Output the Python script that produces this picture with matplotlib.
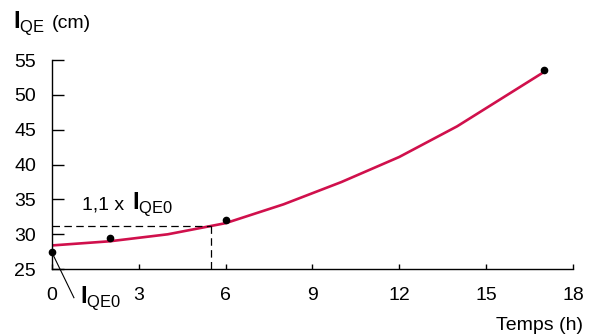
import matplotlib
matplotlib.use("Agg")
import matplotlib.pyplot as plt

plt.rcParams['font.family'] = ['Liberation Sans', 'DejaVu Sans']
plt.rcParams['mathtext.fontset'] = 'custom'
plt.rcParams['mathtext.rm'] = 'Liberation Sans'
plt.rcParams['mathtext.bf'] = 'Liberation Sans:bold'

# measured points
t_meas = [0, 2, 6, 17]
l_meas = [27.4, 29.4, 32.0, 53.6]

# fitted curve
t_fit = [0, 2, 4, 6, 8, 10, 12, 14, 17]
l_fit = [28.4, 29.0, 30.0, 31.6, 34.3, 37.5, 41.1, 45.5, 53.3]

l0 = 28.4
t_cross = 5.5
xticks = [0, 3, 6, 9, 12, 15, 18]
yticks = [25, 30, 35, 40, 45, 50, 55]

fig = plt.figure(figsize=(5.9, 3.36), dpi=100)
ax = fig.add_axes([0.088, 0.199, 0.883, 0.622])

ax.plot(t_fit, l_fit, color='#d0104c', lw=1.9, zorder=2)
ax.plot(t_meas, l_meas, 'o', color='black', ms=4.5, clip_on=False, zorder=3)

# 1.1 x l0 guide lines
dash = (0, (6, 3.5))
ax.plot([0, t_cross], [1.1 * l0, 1.1 * l0], color='black', lw=0.9, ls=dash)
ax.plot([t_cross, t_cross], [25, 1.1 * l0], color='black', lw=0.9, ls=dash)

ax.set_xlim(0, 18)
ax.set_ylim(25, 55)
ax.set_xticks(xticks)
ax.set_yticks(yticks)
for s in ['top', 'right']:
    ax.spines[s].set_visible(False)
ax.spines['left'].set_linewidth(1.0)
ax.spines['bottom'].set_linewidth(1.0)
ax.tick_params(axis='y', direction='in', length=8.5, width=1.0, pad=11.5, labelsize=14)
ax.tick_params(axis='x', direction='in', length=3.5, width=1.0, pad=13, labelsize=14)

# threshold label
ax.text(1.03, 33.6, '1,1 x', fontsize=14, ha='left', va='baseline')
ax.text(2.76, 33.6, r'$\mathbf{I}_{\mathregular{QE0}}$', fontsize=17, ha='left', va='baseline')

# initial length label with leader line
ax.plot([0, 0.76], [27.4, 20.9], color='black', lw=0.8, clip_on=False)
ax.text(0.97, 20.1, r'$\mathbf{I}_{\mathregular{QE0}}$', fontsize=17, ha='left',
        va='baseline', clip_on=False)

fig.text(0.022, 0.917, r'$\mathbf{I}_{\mathregular{QE}}$', fontsize=17, ha='left', va='baseline')
fig.text(0.088, 0.917, '(cm)', fontsize=14, ha='left', va='baseline')
fig.text(0.988, 0.018, 'Temps (h)', fontsize=14, ha='right', va='baseline')

fig.savefig('out.png', dpi=100)
